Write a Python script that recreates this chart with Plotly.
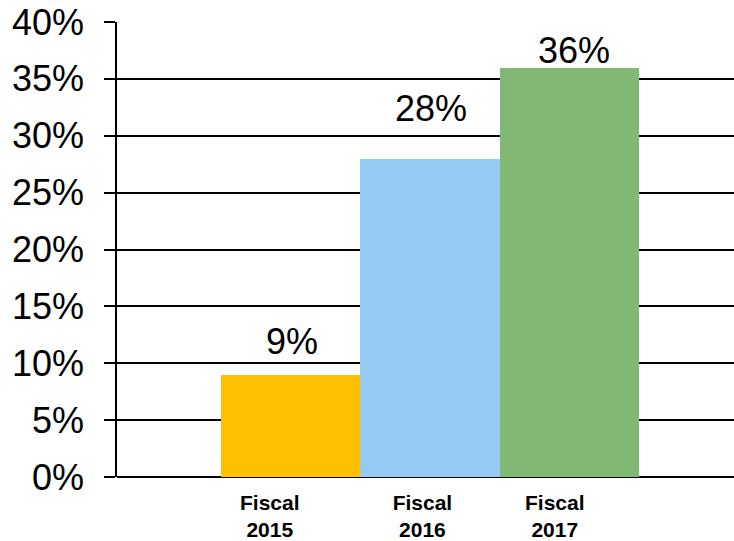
import plotly.graph_objects as go

categories = ["Fiscal<br>2015", "Fiscal<br>2016", "Fiscal<br>2017"]
values = [9, 28, 36]
colors = ["#FFC000", "#95CBF3", "#80B874"]
label_offsets = [-0.15, -0.054, -0.104]  # tick label shift relative to bar centers
value_label_yshift = [11, 28, -5]        # value labels sit at varying heights
value_label_xshift = [1.5, 1.5, 4.5]
y_ticks = [0, 5, 10, 15, 20, 25, 30, 35, 40]

xs = list(range(len(values)))
FONT = "Liberation Sans, Arial, sans-serif"

fig = go.Figure()
fig.add_trace(go.Bar(
    x=xs, y=values, marker=dict(color=colors, line=dict(width=0)),
    width=1.0, showlegend=False, hoverinfo="skip",
))

for x, v, ys, xsft in zip(xs, values, value_label_yshift, value_label_xshift):
    fig.add_annotation(
        x=x, y=v, text=f"{v}%", showarrow=False, yanchor="bottom",
        yshift=ys, xshift=xsft, font=dict(family=FONT, size=36, color="black"),
    )

fig.update_layout(
    width=734, height=541,
    margin=dict(l=117, r=0, t=22, b=62),
    paper_bgcolor="white", plot_bgcolor="white",
    bargap=0,
    font=dict(family=FONT, color="black"),
    xaxis=dict(
        range=[-1.247, 3.183],
        tickmode="array",
        tickvals=[x + o for x, o in zip(xs, label_offsets)],
        ticktext=[f"<b>{c}</b>" for c in categories],
        tickfont=dict(family=FONT, size=21, color="black"),
        showgrid=False, zeroline=False, showline=False,
        ticks="", ticklabelstandoff=11,
    ),
    yaxis=dict(
        range=[0, 40],
        tickmode="array", tickvals=y_ticks,
        ticktext=[f"{t}%" for t in y_ticks],
        tickfont=dict(family=FONT, size=36, color="black"),
        showgrid=True, gridcolor="black", gridwidth=1.5,
        zeroline=True, zerolinecolor="black", zerolinewidth=1.5,
        showline=True, linecolor="black", linewidth=1.5,
        ticks="outside", ticklen=11, tickcolor="black", tickwidth=1.5,
        ticklabelstandoff=13,
    ),
)

fig.write_html("out.html")
